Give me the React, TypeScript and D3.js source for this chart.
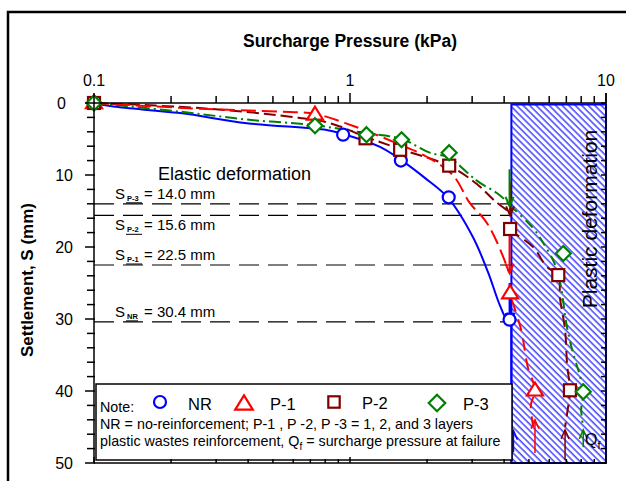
import React from "react";
import * as d3 from "d3";

const FONT = "'Liberation Sans', Arial, Helvetica, sans-serif";

const xTickValues = [0.1, 1, 10];
const xTickLabels = ["0.1", "1", "10"];
const yTickValues = [0, 10, 20, 30, 40, 50];
const qf = 4.27; // start of plastic zone (kPa)

// Markers [pressure (kPa), settlement (mm)]
const nrPoints: [number, number][] = [[0.1, 0], [0.94, 4.4], [1.58, 8.0], [2.43, 13.1], [4.2, 30.1]];
const p1Points: [number, number][] = [[0.1, 0], [0.73, 1.6], [4.22, 26.4], [5.28, 39.9]];
const p2Points: [number, number][] = [[0.1, 0], [1.15, 4.9], [1.57, 6.5], [2.44, 8.7], [4.22, 17.5], [6.51, 23.9], [7.23, 39.9]];
const p3Points: [number, number][] = [[0.1, 0], [0.73, 3.15], [1.16, 4.4], [1.59, 5.1], [2.44, 6.9], [6.81, 20.9], [8.15, 40.1]];

// Curves
const nrCurve: [number, number][] = [[0.1, 0], [0.119, 0.5], [0.217, 1.4], [0.396, 2.8], [0.81, 3.75], [0.94, 4.3], [1.31, 6.1], [1.58, 7.9], [1.96, 10.4], [2.42, 13.2], [3.02, 18.6], [3.46, 23.5], [3.85, 28.1], [4.1, 30.1], [4.27, 30.4]];
const nrPlastic: [number, number][] = [[4.27, 30.4], [4.27, 50]];
const p1Curve: [number, number][] = [[0.1, 0], [0.259, 0.8], [0.584, 1.25], [0.73, 1.5], [1.05, 3.3], [1.57, 5.8], [2.0, 7.5], [2.52, 10.0], [2.94, 13.9], [3.37, 16.3], [3.75, 19.3], [4.18, 23.5]];
const p1Plastic: [number, number][] = [[4.29, 27.4], [4.66, 31.5], [4.95, 36.7], [5.28, 39.9], [5.09, 41.9], [5.2, 45]];
const p2Curve: [number, number][] = [[0.1, 0], [0.259, 0.7], [0.584, 1.9], [0.835, 2.8], [1.15, 4.7], [1.57, 6.4], [2.44, 8.75], [3.13, 11.25], [3.68, 13.6], [4.18, 15.1]];
const p2Plastic: [number, number][] = [[4.22, 17.5], [4.49, 18.3], [5.19, 20.0], [5.89, 22.8], [6.51, 23.9], [6.61, 27.1], [6.92, 31.5], [7.05, 36.4], [7.23, 39.9], [7.05, 43.1], [6.92, 45]];
const p3Curve: [number, number][] = [[0.1, 0], [0.217, 1.2], [0.396, 2.3], [0.73, 3.1], [1.16, 4.2], [1.59, 5.0], [2.05, 6.9], [2.44, 7.6], [2.94, 10.0], [3.22, 11.1], [3.78, 12.6], [4.18, 14.0]];
const p3Plastic: [number, number][] = [[4.2, 14.2], [5.14, 17.2], [5.68, 19.4], [6.44, 23.2], [7.05, 31.25], [7.43, 34.7], [7.85, 37.5], [8.15, 40.1], [8.0, 42.6], [8.15, 45]];

// Failure arrows: [pressure, from S, to S] (pointing down)
const failDown: { p: number; from: number; to: number; c: string }[] = [
  { p: 4.22, from: 11, to: 15.6, c: "#800000" },
  { p: 4.2, from: 9.2, to: 14.3, c: "#008000" },
  { p: 4.2, from: 18, to: 23.6, c: "#ff0000" },
  { p: 4.22, from: 25, to: 30.4, c: "#0000ff" },
];
// Qf arrows at bottom (pointing up): [pressure, from S, to S]
const qfArrows: { p: number; from: number; to: number; c: string }[] = [
  { p: 4.35, from: 48.5, to: 45.5, c: "#0000ff" },
  { p: 5.28, from: 48.6, to: 44.0, c: "#ff0000" },
  { p: 6.92, from: 49.6, to: 45.4, c: "#800000" },
  { p: 8.15, from: 47.8, to: 45.4, c: "#008000" },
];

// Settlement at failure
const failLabels = [
  { sub: "P-3", value: "14.0", s: 14.0, above: true },
  { sub: "P-2", value: "15.6", s: 15.6, above: false },
  { sub: "P-1", value: "22.5", s: 22.5, above: true },
  { sub: "NR", value: "30.4", s: 30.4, above: true },
];

const BLUE = "#0000ff";
const RED = "#ff0000";
const MAROON = "#800000";
const GREEN = "#008000";

const x = d3.scaleLog().domain([0.1, 10]).range([94, 606]);
const y = d3.scaleLinear().domain([0, 50]).range([103, 463]);

const lineGen = d3
  .line<[number, number]>()
  .x((d) => x(d[0]))
  .y((d) => y(d[1]))
  .curve(d3.curveCatmullRom.alpha(0.5));

function Marker({ kind, cx, cy, color, s = 1 }: { kind: string; cx: number; cy: number; color: string; s?: number }) {
  const sw = 2.2;
  if (kind === "circle") return <circle cx={cx} cy={cy} r={6 * s} fill="white" stroke={color} strokeWidth={sw} />;
  if (kind === "tri") {
    const h = 13 * s, w = 8 * s;
    return <path d={`M${cx},${cy - h * 0.6}L${cx + w},${cy + h * 0.4}L${cx - w},${cy + h * 0.4}Z`} fill="white" stroke={color} strokeWidth={sw} />;
  }
  if (kind === "square") {
    const a = 6 * s;
    return <rect x={cx - a} y={cy - a} width={2 * a} height={2 * a} fill="white" stroke={color} strokeWidth={sw} />;
  }
  const a = 7.5 * s;
  return <path d={`M${cx},${cy - a}L${cx + a},${cy}L${cx},${cy + a}L${cx - a},${cy}Z`} fill="white" stroke={color} strokeWidth={sw} />;
}

function Arrow({ x0, y0, y1, color, w = 2 }: { x0: number; y0: number; y1: number; color: string; w?: number }) {
  const dir = y1 > y0 ? 1 : -1;
  return (
    <g stroke={color} strokeWidth={w} fill="none">
      <line x1={x0} y1={y0} x2={x0} y2={y1} />
      <path d={`M${x0 - 4},${y1 - dir * 9}L${x0},${y1}L${x0 + 4},${y1 - dir * 9}`} />
    </g>
  );
}

export default function App() {
  const minorX: number[] = [];
  for (const dec of [0.1, 1]) for (let k = 1; k <= 9; k++) minorX.push(dec * k);
  minorX.push(10);
  const yMinor = d3.range(0, 50.001, 2);

  const series = [
    { pts: nrPoints, kind: "circle", color: BLUE },
    { pts: p1Points, kind: "tri", color: RED },
    { pts: p2Points, kind: "square", color: MAROON },
    { pts: p3Points, kind: "diamond", color: GREEN },
  ];

  return (
    <svg width={626} height={481} style={{ position: "absolute", left: 0, top: 0, background: "white" }} fontFamily={FONT}>
      <defs>
        <pattern id="hatch" width="4.6" height="4.6" patternUnits="userSpaceOnUse" patternTransform="rotate(-45)">
          <rect width="4.6" height="4.6" fill="white" />
          <line x1="1" y1="0" x2="1" y2="4.6" stroke={BLUE} strokeWidth={1.1} />
        </pattern>
      </defs>
      <rect x={0} y={0} width={626} height={481} fill="white" />
      {/* outer frame */}
      <rect x={8} y={12} width={700} height={520} fill="none" stroke="black" strokeWidth={2.5} />

      {/* plastic zone */}
      <rect x={x(qf)} y={y(0) + 1.5} width={x(10) - x(qf)} height={y(50) - y(0) - 1.5} fill="url(#hatch)" stroke={BLUE} strokeWidth={2} />

      {/* settlement at failure dashed lines */}
      {failLabels.map((f) => (
        <line key={f.sub} x1={x(0.1)} x2={x(qf)} y1={y(f.s)} y2={y(f.s)} stroke="black" strokeWidth={1.2} strokeDasharray="20,9" />
      ))}
      {failLabels.map((f) => {
        const by = f.above ? y(f.s) - 5 : y(f.s) + 15;
        return (
          <g key={"l" + f.sub}>
            <text x={115} y={by} fontSize={15} fill="black">S</text>
            <text x={127} y={by + 2} fontSize={7.5} fontWeight="bold" fill="black">{f.sub}</text>
            <line x1={126} x2={f.sub === "NR" ? 138 : 142} y1={by + 4} y2={by + 4} stroke="black" strokeWidth={1} />
            <text x={144} y={by} fontSize={15} fill="black">= {f.value} mm</text>
          </g>
        );
      })}

      <text x={158} y={180} fontSize={18} fill="black">Elastic deformation</text>

      {/* curves */}
      <path d={lineGen(nrCurve) || ""} fill="none" stroke={BLUE} strokeWidth={2} />
      <path d={lineGen(nrPlastic) || ""} fill="none" stroke={BLUE} strokeWidth={2} />
      <path d={lineGen(p3Curve) || ""} fill="none" stroke={GREEN} strokeWidth={2} strokeDasharray="12,4,2,4" />
      <path d={lineGen(p2Curve) || ""} fill="none" stroke={MAROON} strokeWidth={2} strokeDasharray="12,5" />
      <path d={lineGen(p1Curve) || ""} fill="none" stroke={RED} strokeWidth={2} strokeDasharray="15,6" />
      <path d={lineGen(p1Plastic) || ""} fill="none" stroke={RED} strokeWidth={2} strokeDasharray="12,8" />
      <path d={lineGen(p2Plastic) || ""} fill="none" stroke={MAROON} strokeWidth={2} strokeDasharray="12,6" />
      <path d={lineGen(p3Plastic) || ""} fill="none" stroke={GREEN} strokeWidth={2} strokeDasharray="10,5,2,5" />

      {/* failure arrows */}
      {failDown.map((a, i) => (
        <Arrow key={i} x0={x(a.p)} y0={y(a.from)} y1={y(a.to)} color={a.c} w={a.c === BLUE ? 3 : 2} />
      ))}
      {qfArrows.map((a, i) => (
        <Arrow key={"q" + i} x0={x(a.p)} y0={y(a.from)} y1={y(a.to)} color={a.c} w={1.5} />
      ))}

      {/* markers */}
      {series.map((s) =>
        s.pts.map((d, i) => <Marker key={s.kind + i} kind={s.kind} cx={x(d[0])} cy={y(d[1])} color={s.color} />)
      )}

      <text transform={`translate(597,219) rotate(-90)`} textAnchor="middle" fontSize={21} fill="black">Plastic deformation</text>
      <text x={585} y={445} fontSize={16} fill="black">Q<tspan fontSize={11} dy={4}>f</tspan></text>

      {/* legend / note box */}
      <rect x={96} y={384} width={416} height={76} fill="white" stroke="black" strokeWidth={1.5} />
      <text x={100} y={412} fontSize={14.3} fill="black">Note:</text>
      <Marker kind="circle" cx={160} cy={402} color={BLUE} />
      <text x={188} y={410} fontSize={16.5} fill="black">NR</text>
      <Marker kind="tri" cx={244} cy={404} color={RED} s={1.1} />
      <text x={270} y={410} fontSize={16.5} fill="black">P-1</text>
      <Marker kind="square" cx={334} cy={402} color={MAROON} s={0.95} />
      <text x={362} y={409} fontSize={16.5} fill="black">P-2</text>
      <Marker kind="diamond" cx={437} cy={403} color={GREEN} s={1.1} />
      <text x={463} y={410} fontSize={16.5} fill="black">P-3</text>
      <text x={100} y={429} fontSize={14.3} fill="black">NR = no-reinforcement; P-1 , P -2, P -3 = 1, 2, and 3 layers</text>
      <text x={100} y={446} fontSize={14.3} fill="black">
        plastic wastes reinforcement, Q<tspan fontSize={10} dy={4}>f</tspan>
        <tspan dy={-4}> = surcharge pressure at failure</tspan>
      </text>

      {/* axes */}
      <g stroke="black" strokeWidth={1.5} fill="none">
        <line x1={x(0.1)} x2={x(10)} y1={y(0)} y2={y(0)} />
        <line x1={x(0.1)} x2={x(10)} y1={y(50)} y2={y(50)} />
        <line x1={x(0.1)} x2={x(0.1)} y1={y(0)} y2={y(50)} />
        <line x1={x(10)} x2={x(10)} y1={y(0) - 10} y2={y(50)} />
        {minorX.map((v, i) => {
          const major = xTickValues.some((t) => Math.abs(t - v) < 1e-9);
          return (
            <g key={"xt" + i}>
              <line x1={x(v)} x2={x(v)} y1={y(0)} y2={y(0) - (major ? 10 : 7)} />
              <line x1={x(v)} x2={x(v)} y1={y(50)} y2={y(50) - (major ? 6 : 4)} />
            </g>
          );
        })}
        {yMinor.map((v, i) => {
          const major = v % 10 === 0;
          return (
            <g key={"yt" + i}>
              <line x1={x(0.1) - (major ? 9 : 7)} x2={x(0.1) + 1} y1={y(v)} y2={y(v)} />
              <line x1={x(10)} x2={x(10) - 5} y1={y(v)} y2={y(v)} />
            </g>
          );
        })}
      </g>

      {xTickValues.map((v, i) => (
        <text key={"xl" + i} x={x(v)} y={86} textAnchor="middle" fontSize={16} fill="black">{xTickLabels[i]}</text>
      ))}
      {yTickValues.map((v) => (
        <text key={"yl" + v} x={v === 0 ? 66 : 73} y={y(v)} dy="0.36em" textAnchor="end" fontSize={16} fill="black">{v}</text>
      ))}

      <text x={350} y={47} textAnchor="middle" fontSize={17.5} fontWeight="bold" fill="black">Surcharge Pressure (kPa)</text>
      <text transform="translate(33,280) rotate(-90)" textAnchor="middle" fontSize={17} fontWeight="bold" fill="black">Settlement, S (mm)</text>
    </svg>
  );
}
